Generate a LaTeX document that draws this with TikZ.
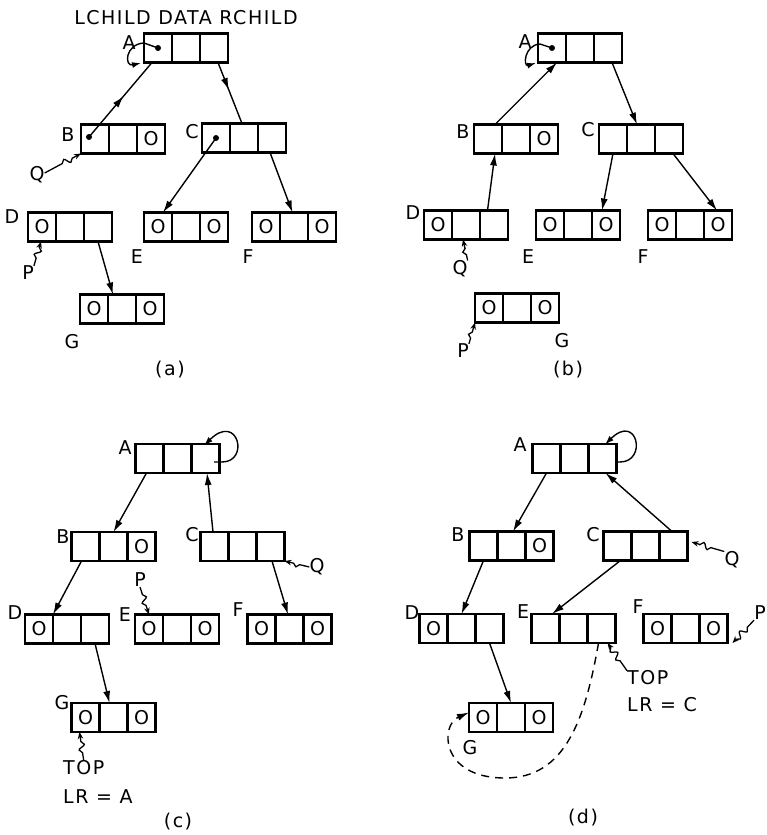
\documentclass[tikz,border=0pt]{standalone}
\usepackage{fontspec}
\setmainfont{DejaVu Sans}[LetterSpace=8]
\usetikzlibrary{arrows.meta,calc,decorations.pathmorphing,decorations.markings}
\newcommand{\tribox}[5]{%
  \node[cell] (#1-l) at ({#2-28},#3) {#4};
  \node[cell] (#1-d) at (#2,#3) {};
  \node[cell] (#1-r) at ({#2+28},#3) {#5};}
\tikzset{
  cell/.style={draw, line width=2.3pt, minimum width=28pt, minimum height=29pt, inner sep=0pt, outer sep=0pt, font=\fontsize{19}{19}\selectfont},
  lbl/.style={inner sep=0pt, font=\fontsize{19}{19}\selectfont},
  con/.style={line width=1.4pt, -{Latex[length=12pt,width=7pt]}},
  midcon/.style={line width=1.4pt, decoration={markings, mark=at position #1 with {\arrow{Latex[length=12pt,width=7pt]}}}, postaction={decorate}},
  dot/.style={circle, fill, inner sep=0pt, minimum size=6pt},
  ptr/.style={line width=1.3pt, -{Stealth[length=7pt,width=5.5pt]}, decorate, decoration={snake, amplitude=3pt, segment length=10pt, pre length=#1, post length=5pt}},
  ptr/.default=8pt,
  loopline/.style={line width=1.4pt, -{Latex[length=9pt,width=6pt]}},
  dashline/.style={line width=1.4pt, dash pattern=on 8pt off 6pt, -{Latex[length=12pt,width=7pt]}}
}
\begin{document}
\begin{tikzpicture}[x=1pt,y=-1pt]
\useasboundingbox (0,0) rectangle (766,835);
% ---------------- (a)
\node[lbl] (hdr) at (186,18) {LCHILD DATA RCHILD};
\tribox{aA}{186}{48}{}{}
\tribox{aB}{123}{139}{}{O}
\tribox{aC}{244}{138}{}{}
\tribox{aD}{70}{227}{O}{}
\tribox{aE}{186}{227}{O}{O}
\tribox{aF}{294}{227}{O}{O}
\tribox{aG}{122}{309}{O}{O}
\node[lbl] (aAl) at (129,43) {A};
\node[lbl] (aBl) at (68,135) {B};
\node[lbl] (aCl) at (192,132) {C};
\node[lbl] (aDl) at (12,217) {D};
\node[lbl] (aEl) at (137,257) {E};
\node[lbl] (aFl) at (248,257) {F};
\node[lbl] (aGl) at (72,342) {G};
\node[lbl] (aQ) at (37,175) {Q};
\node[lbl] (aP) at (28,273) {P};
\node[lbl] (capa) at (170,370) {(a)};
\node[dot] (aAdot) at (aA-l.center) {};
\node[dot] (aBdot) at ($(aB-l.center)+(-6,-2)$) {};
\node[dot] (aCdot) at (aC-l.center) {};
\draw[loopline] (aAdot.center) -- ($(aAdot)+(-14,-5)$) .. controls ($(aAdot)+(-33,-4)$) and ($(aAdot)+(-34,19)$) .. ($(aAdot)+(-17,15)$);
\draw[midcon=0.55] (aBdot.center) -- ([xshift=-6]aA-l.south);
\draw[midcon=0.45] ([xshift=4]aA-r.south) -- ([xshift=-2]aC-d.north);
\draw[con] (aCdot.center) -- ([xshift=5]aE-l.north);
\draw[con] ([xshift=-2]aC-r.south) -- ([xshift=-1.5]aF-d.north);
\draw[con] (aD-r.south) -- ([xshift=-9]aG-d.north);
\draw[ptr=20pt] ([yshift=2]aQ.east) -- (aB-l.south west);
\draw[ptr=8pt] (aP.north east) -- ([xshift=-1]aD-l.south);
% ---------------- (b)
\tribox{bA}{580}{48}{}{}
\tribox{bB}{516}{139}{}{O}
\tribox{bC}{641}{139}{}{}
\tribox{bD}{466}{225}{O}{}
\tribox{bE}{578}{225}{O}{O}
\tribox{bF}{690}{225}{O}{O}
\tribox{bG}{517}{308}{O}{O}
\node[lbl] (bAl) at (525,42) {A};
\node[lbl] (bBl) at (463,132) {B};
\node[lbl] (bCl) at (588,130) {C};
\node[lbl] (bDl) at (413,213) {D};
\node[lbl] (bEl) at (528,257) {E};
\node[lbl] (bFl) at (643,257) {F};
\node[lbl] (bGl) at (562,341) {G};
\node[lbl] (bQ) at (460,269) {Q};
\node[lbl] (bP) at (463,351) {P};
\node[lbl] (capb) at (568,370) {(b)};
\node[dot] (bAdot) at (bA-l.center) {};
\draw[loopline] (bAdot.center) -- ($(bAdot)+(-12,-4)$) .. controls ($(bAdot)+(-28,-3)$) and ($(bAdot)+(-29,19)$) .. ($(bAdot)+(-16,15)$);
\draw[con] ([xshift=7]bB-l.north) -- ([xshift=5]bA-l.south);
\draw[con] ([xshift=4]bA-r.south) -- ([xshift=-4]bC-d.north);
\draw[con] (bC-l.south) -- ([xshift=-4]bE-r.north);
\draw[con] ([xshift=4]bC-r.south) -- ([xshift=-1]bF-r.north);
\draw[con] ([xshift=-6.5]bD-r.north) -- ([xshift=7]bB-l.south);
\draw[ptr=6pt] (bQ.north east) -- ([xshift=-3]bD-d.south);
\draw[ptr=6pt] (bP.north east) -- (bG-l.south west);
% ---------------- (c)
\tribox{cA}{177.5}{458.5}{}{}
\tribox{cB}{113.5}{546.5}{}{O}
\tribox{cC}{242.5}{546.5}{}{}
\tribox{cD}{67}{629}{O}{}
\tribox{cE}{177}{629}{O}{O}
\tribox{cF}{289.5}{629}{O}{O}
\tribox{cG}{113.5}{717.5}{O}{O}
\node[lbl] (cAl) at (125,448) {A};
\node[lbl] (cBl) at (63,537) {B};
\node[lbl] (cCl) at (192,535) {C};
\node[lbl] (cDl) at (15,613) {D};
\node[lbl] (cEl) at (125,615) {E};
\node[lbl] (cFl) at (238,610) {F};
\node[lbl] (cGl) at (62,703) {G};
\node[lbl] (cQ) at (317,567) {Q};
\node[lbl] (cP) at (140,580) {P};
\node[lbl, anchor=west] (cTOP) at (63,768) {TOP};
\node[lbl, anchor=west] (cLR) at (63,797) {LR = A};
\node[lbl] (capc) at (178,822) {(c)};
\draw[loopline] ($(cA-r.center)+(8.5,3.5)$) -- ($(cA-r.center)+(16.5,3.5)$) .. controls ($(cA-r.center)+(44.5,3.5)$) and ($(cA-r.center)+(32.5,-46.5)$) .. ($(cA-r.center)+(-1.5,-13)$);
\draw[con] ([xshift=-3]cA-l.south) -- (cB-d.north);
\draw[con] ([xshift=-1.5]cC-l.north) -- ([xshift=1.5]cA-r.south);
\draw[con] ([xshift=-4]cB-l.south) -- (cD-l.north east);
\draw[con] ([xshift=1.5]cC-r.south) -- ([xshift=-1.5]cF-d.north);
\draw[con] (cD-r.south) -- ([xshift=-4]cG-d.north);
\draw[ptr=10pt] (cQ.west) -- (cC-r.south east);
\draw[ptr=8pt] (cP.south) -- (cE-l.north);
\draw[ptr=8pt] (cTOP.north) -- ([xshift=-6]cG-l.south);
% ---------------- (d)
\tribox{dA}{574.5}{458.5}{}{}
\tribox{dB}{511.5}{546}{}{O}
\tribox{dC}{645.5}{546}{}{}
\tribox{dD}{461.5}{628.5}{O}{}
\tribox{dE}{573.5}{628.5}{}{}
\tribox{dF}{685.5}{628.5}{O}{O}
\tribox{dG}{511}{717.5}{O}{O}
\node[lbl] (dAl) at (520,445) {A};
\node[lbl] (dBl) at (458,535) {B};
\node[lbl] (dCl) at (593,535) {C};
\node[lbl] (dDl) at (412,613) {D};
\node[lbl] (dEl) at (523,612) {E};
\node[lbl] (dFl) at (638,607) {F};
\node[lbl] (dGl) at (470,748) {G};
\node[lbl] (dQ) at (732,560) {Q};
\node[lbl] (dP) at (760,613) {P};
\node[lbl, anchor=west] (dTOP) at (627,678) {TOP};
\node[lbl, anchor=west] (dLR) at (627,705) {LR = C};
\node[lbl] (capd) at (583,818) {(d)};
\draw[loopline] ($(dA-r.center)+(13.5,3.5)$) -- ($(dA-r.center)+(17.5,3.5)$) .. controls ($(dA-r.center)+(45,3.5)$) and ($(dA-r.center)+(35,-46)$) .. ($(dA-r.center)+(2.5,-14)$);
\draw[con] (dA-l.south) -- ([xshift=1.5]dB-d.north);
\draw[con] ([xshift=-1.5]dC-r.north) -- ([xshift=3]dA-r.south);
\draw[con] (dB-l.south) -- (dD-d.north);
\draw[con] ([xshift=3]dC-l.south) -- ([xshift=6.5]dE-l.north);
\draw[con] (dD-r.south) -- (dG-d.north);
\draw[dashline] ([xshift=-3]dE-r.south) .. controls (585,720) and (565,778) .. (505,778) .. controls (440,778) and (440,725) .. ([yshift=5]dG-l.west);
\draw[ptr=14pt] (dQ.north west) -- ([xshift=4,yshift=4]dC-r.east);
\draw[ptr=10pt] (dP.south west) -- ([xshift=5]dF-r.south east);
\draw[ptr=12pt] (dTOP.north west) -- ([xshift=6]dE-r.south);
\end{tikzpicture}
\end{document}
